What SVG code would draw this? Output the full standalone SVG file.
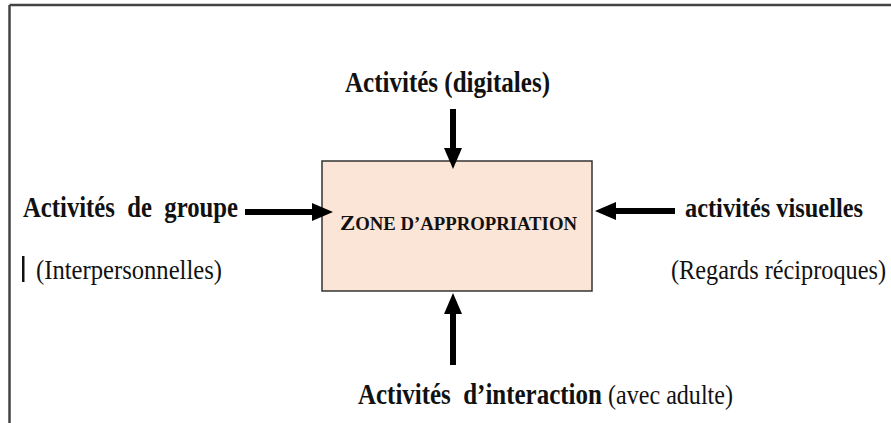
<svg xmlns="http://www.w3.org/2000/svg" width="891" height="423" viewBox="0 0 891 423">
<style>
.b{font-family:"Liberation Serif","Times New Roman",serif;font-weight:bold;fill:#111}
.r{font-family:"Liberation Serif","Times New Roman",serif;fill:#111}
.rn{font-weight:normal}
.conn{stroke:#000;stroke-width:6;fill:none;marker-end:url(#ah)}
</style>
<defs>
<marker id="ah" markerUnits="userSpaceOnUse" markerWidth="21" markerHeight="18" refX="1" refY="9" orient="auto">
<path d="M0,0 L21,9 L0,18 z" fill="#000"/>
</marker>
</defs>
<rect width="891" height="423" fill="#fff"/>
<g id="frame">
<line x1="9.5" y1="5" x2="891" y2="5" stroke="#444" stroke-width="2.5"/>
<line x1="9.5" y1="5" x2="9.5" y2="423" stroke="#444" stroke-width="2.5"/>
</g>
<g id="zone">
<rect x="322" y="161" width="270" height="130" fill="#FBE5D6" stroke="#333" stroke-width="1.5"/>
<text class="b" x="340" y="230" textLength="237" lengthAdjust="spacingAndGlyphs"><tspan font-size="22">Z</tspan><tspan font-size="18">ONE D’APPROPRIATION</tspan></text>
</g>
<g id="top">
<text class="b" x="345" y="92" font-size="29" textLength="205" lengthAdjust="spacingAndGlyphs">Activités (digitales)</text>
</g>
<g id="left">
<text class="b" x="23" y="217" font-size="29" textLength="215" lengthAdjust="spacingAndGlyphs" xml:space="preserve">Activités  de  groupe</text>
<rect x="22" y="256" width="2.5" height="26" fill="#111"/>
<text class="r" x="36" y="279" font-size="28" textLength="186" lengthAdjust="spacingAndGlyphs">(Interpersonnelles)</text>
</g>
<g id="right">
<text class="b" x="685" y="217" font-size="28" textLength="178" lengthAdjust="spacingAndGlyphs">activités visuelles</text>
<text class="r" x="671" y="279" font-size="27" textLength="215" lengthAdjust="spacingAndGlyphs">(Regards réciproques)</text>
</g>
<g id="bottom">
<text class="b" x="358" y="404" font-size="29" textLength="375" lengthAdjust="spacingAndGlyphs" xml:space="preserve">Activités  d’interaction <tspan class="rn" font-size="28">(avec adulte)</tspan></text>
</g>
<g id="connectors">
<line class="conn" x1="453" y1="109" x2="453" y2="149"/>
<line class="conn" x1="453" y1="365" x2="453" y2="313"/>
<line class="conn" x1="245" y1="212" x2="313" y2="212"/>
<line class="conn" x1="675" y1="211" x2="615" y2="211"/>
</g>
</svg>
